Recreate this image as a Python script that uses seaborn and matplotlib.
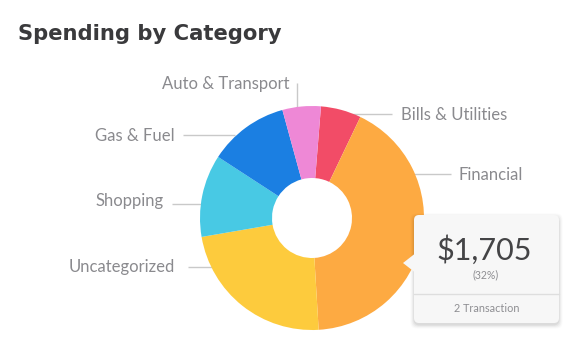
import matplotlib
matplotlib.use("Agg")
import matplotlib.pyplot as plt
from matplotlib.patches import FancyBboxPatch, Polygon
import seaborn as sns

# Spending per category (USD), in the order the slices run clockwise from the top
categories = ["Bills & Utilities", "Financial", "Uncategorized", "Shopping", "Gas & Fuel", "Auto & Transport"]
amounts = [237, 1705, 945, 483, 470, 225]
slice_colors = ["#F24C67", "#FDAA42", "#FDCB3D", "#48C9E4", "#1B7FE2", "#EE88D6"]

title = "Spending by Category"
tooltip_category = "Financial"
tooltip_share = "32%"
tooltip_transactions = 2

sns.set_theme(style="white")
plt.rcParams["font.family"] = ["Lato", "DejaVu Sans"]

W, H = 582, 341
fig = plt.figure(figsize=(W / 100, H / 100), dpi=100)
ax = fig.add_axes([0, 0, 1, 1])

palette = sns.color_palette(slice_colors)
cx, cy, r_out, r_in = 312, 218, 112, 40

# the y axis runs downward (pixel layout), so counterclock=True turns clockwise on screen
wedges, _ = ax.pie(amounts, colors=palette, startangle=-85.4, counterclock=True,
                   center=(cx, cy), radius=r_out,
                   wedgeprops=dict(width=r_out - r_in, linewidth=0, zorder=3))
ax.set_xlim(0, W)
ax.set_ylim(H, 0)
ax.set_aspect("equal")
ax.axis("off")

label_color = "#8A8A8E"
line_color = "#C9C9C9"
fs = 12.0

# callout labels with their leader lines
callouts = {
    "Auto & Transport": dict(line=((297, 297), (83, 110)), text=(289, 89, "right")),
    "Bills & Utilities": dict(line=((345, 392), (114, 114)), text=(401, 120, "left")),
    "Financial": dict(line=((405, 451), (173.5, 173.5)), text=(459, 180, "left")),
    "Gas & Fuel": dict(line=((183, 235), (134.5, 134.5)), text=(175, 141, "right")),
    "Shopping": dict(line=((172, 205), (203.5, 203.5)), text=(164, 206, "right")),
    "Uncategorized": dict(line=((188, 215), (266.5, 266.5)), text=(175, 272, "right")),
}
for name in categories:
    c = callouts[name]
    ax.plot(*c["line"], color=line_color, lw=1.0, zorder=1, solid_capstyle="butt")
    tx, ty, ha = c["text"]
    ax.text(tx, ty, name, ha=ha, va="baseline", fontsize=fs, color=label_color, zorder=5)

# title
ax.text(18, 39.5, title, ha="left", va="baseline", fontsize=15.25, fontweight="bold",
        family=["DejaVu Sans"], color="#3A3A3C", zorder=5)

# tooltip for the highlighted slice
value = amounts[categories.index(tooltip_category)]
bx0, by0, bx1, by1 = 414, 215, 559, 323
for i, a in enumerate([0.05, 0.04, 0.03, 0.02]):
    d = i + 1.5
    ax.add_patch(FancyBboxPatch((bx0 - d + 1, by0 - d + 3), bx1 - bx0 + 2 * d - 2, by1 - by0 + 2 * d - 2,
                                boxstyle="round,pad=0,rounding_size=6", fc="black", ec="none",
                                alpha=a, zorder=6))
ax.add_patch(FancyBboxPatch((bx0, by0), bx1 - bx0, by1 - by0,
                            boxstyle="round,pad=0,rounding_size=5", fc="#F7F7F7", ec="none", zorder=7))
ax.add_patch(Polygon([(414.5, 254), (403, 263), (414.5, 272)], closed=True,
                     fc="#F7F7F7", ec="none", zorder=7))
ax.plot([bx0, bx1], [294, 294], color="#DEDEDE", lw=1.0, zorder=8)
mid = (bx0 + bx1) / 2
ax.text(mid - 2, 259.5, f"${value:,}", ha="center", va="baseline", fontsize=22,
        color="#444446", zorder=9)
ax.text(mid - 1, 278.5, f"({tooltip_share})", ha="center", va="baseline", fontsize=7.6,
        color="#8E8E92", zorder=9)
ax.text(mid, 311.5, f"{tooltip_transactions} Transaction", ha="center", va="baseline",
        fontsize=7.8, color="#8E8E92", zorder=9)

fig.savefig("out.png", dpi=100)
